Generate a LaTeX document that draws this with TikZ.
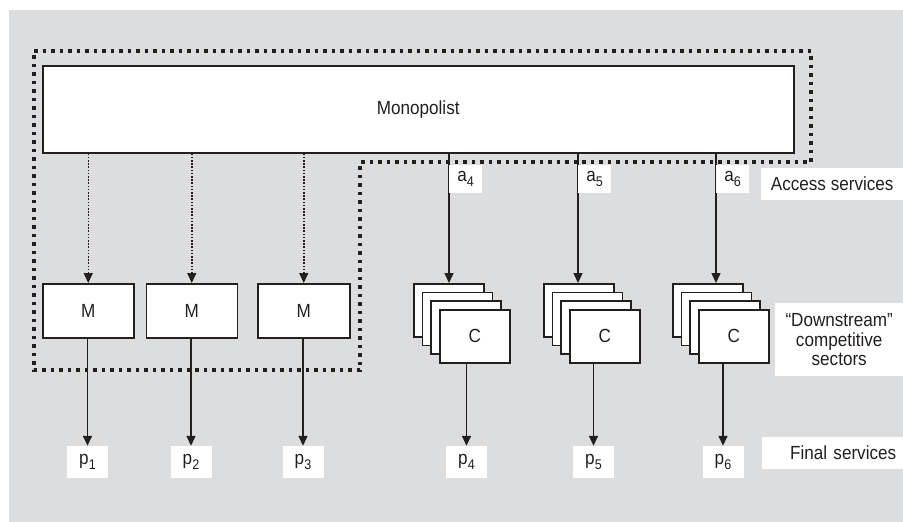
\documentclass[tikz,border=0pt]{standalone}
\usepackage{fontspec}
\setmainfont{Liberation Sans}[FakeStretch=0.9]
\usetikzlibrary{arrows.meta}
\definecolor{bggray}{HTML}{DCDDDF}
\definecolor{ink}{HTML}{231F20}
\newcommand\sbs[1]{\raisebox{-0.5ex}{\fontsize{14}{14}\selectfont #1}}
\begin{document}
\begin{tikzpicture}[x=1pt,y=-1pt,
  font=\fontsize{19}{19.5}\selectfont,
  box/.style={draw=ink, line width=1.5pt, fill=white, inner sep=0pt, anchor=north west, text=ink},
  lbl/.style={fill=white, inner sep=0pt, anchor=north west, text=ink},
  plbl/.style={fill=white, inner sep=0pt, anchor=center, text=ink, minimum width=41pt, minimum height=32pt},
  arr/.style={-{Triangle[width=9pt,length=10pt]}, line width=1.5pt, draw=ink},
  dotarr/.style={arr, dash pattern=on 1.6pt off 1.6pt},
  border/.style={draw=ink, line width=3.5pt, dash pattern=on 3.5pt off 5pt}]
\useasboundingbox (0,0) rectangle (903,522);
\fill[bggray] (9,10) rectangle (903,522);

% dotted integrated-firm border
\draw[border] (34,51) -- (811,51) -- (811,162) -- (360,162) -- (360,370) -- (34,370) -- cycle;

% monopolist
\node[box, minimum width=751pt, minimum height=87pt] (mono) at (42,65) {Monopolist};

% M boxes
\node[box, minimum width=91pt, minimum height=54pt] (m1) at (42,283) {M};
\node[box, minimum width=91pt, minimum height=54pt] (m2) at (145.5,283) {M};
\node[box, minimum width=92pt, minimum height=54pt] (m3) at (257,283) {M};

% C stacks
\foreach \s/\x in {4/413,5/543,6/672} {
  \foreach \i in {0,1,2} {
    \node[box, minimum width=70pt, minimum height=53pt] (c\s\i) at ({\x+8.7*\i},{283+8.7*\i}) {};
  }
  \node[box, minimum width=70pt, minimum height=53pt] (c\s3) at ({\x+26},{309}) {C};
}

% price labels
\node[plbl] (p1) at (87.5,462) {p\sbs{1}};
\node[plbl] (p2) at (191,462) {p\sbs{2}};
\node[plbl] (p3) at (303,462) {p\sbs{3}};
\node[plbl] (p4) at (466.5,462) {p\sbs{4}};
\node[plbl] (p5) at (593.5,462) {p\sbs{5}};
\node[plbl] (p6) at (723,462) {p\sbs{6}};

% access coordinates
\coordinate (x4) at (449,0);
\coordinate (x5) at (578,0);
\coordinate (x6) at (716,0);

% dotted internal supply arrows
\draw[dotarr] (mono.south -| m1.north) -- (m1.north);
\draw[dotarr] (mono.south -| m2.north) -- (m2.north);
\draw[dotarr] (mono.south -| m3.north) -- (m3.north);

% access arrows
\draw[arr] (mono.south -| x4) -- (c40.north -| x4);
\draw[arr] (mono.south -| x5) -- (c50.north -| x5);
\draw[arr] (mono.south -| x6) -- (c60.north -| x6);

% final services arrows
\draw[arr] (m1.south -| p1) -- (p1.north);
\draw[arr] (m2.south -| p2) -- (p2.north);
\draw[arr] (m3.south -| p3) -- (p3.north);
\draw[arr] (c43.south -| p4) -- (p4.north);
\draw[arr] (c53.south -| p5) -- (p5.north);
\draw[arr] (c63.south -| p6) -- (p6.north);

% access labels
\node[lbl, minimum width=33pt, minimum height=28pt] (a4) at (449,165) {a\sbs{4}};
\node[lbl, minimum width=33pt, minimum height=28pt] (a5) at (578,165) {a\sbs{5}};
\node[lbl, minimum width=33pt, minimum height=28pt] (a6) at (716,165) {a\sbs{6}};

% right-hand labels
\node[lbl, minimum width=142pt, minimum height=32pt] (acc) at (761,168) {Access services};
\node[lbl, minimum width=128pt, minimum height=73pt, align=center] (down) at (775,303) {“Downstream”\\competitive\\sectors};
\node[lbl, minimum width=141pt, minimum height=32pt, text width=127pt, align=right] (fin) at (762,437) {Final services};
\end{tikzpicture}
\end{document}
